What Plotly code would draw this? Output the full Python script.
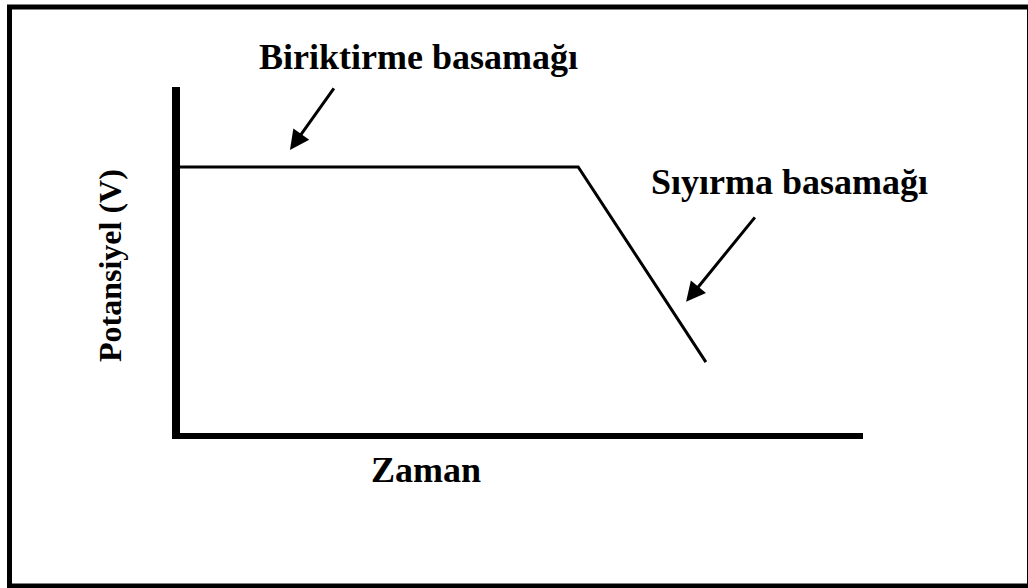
import plotly.graph_objects as go

# Data (arbitrary units)
time = [0.0, 5.83, 7.70]
potential = [7.69, 7.69, 2.05]

x_label = "Zaman"
y_label = "Potansiyel (V)"
label_dep = "Biriktirme basamağı"
label_strip = "Sıyırma basamağı"

W, H = 1028, 588
ML, MR, MT, MB = 180, 165, 87, 155
PW, PH = W - ML - MR, H - MT - MB

def px(xp):
    return (xp - ML) / PW

def py(yp):
    return (H - MB - yp) / PH

FONT = "Liberation Serif"

fig = go.Figure()
fig.add_trace(go.Scatter(x=time, y=potential, mode="lines",
                         line=dict(color="black", width=3), hoverinfo="skip",
                         showlegend=False))

axis_common = dict(showgrid=False, zeroline=False, showticklabels=False,
                   ticks="", showline=True, linecolor="black", fixedrange=True)
fig.update_xaxes(range=[0, 10], linewidth=6, **axis_common)
fig.update_yaxes(range=[0, 10], linewidth=8, **axis_common)

tfont_h = dict(family=FONT, size=36, color="black", weight="bold")
tfont_v = dict(family=FONT, size=32, color="black", weight="bold")

ann = [
    dict(text=label_dep, x=px(418), y=py(57), xref="paper", yref="paper",
         showarrow=False, font=tfont_h, xanchor="center", yanchor="middle"),
    dict(text=label_strip, x=px(789), y=py(182), xref="paper", yref="paper",
         showarrow=False, font=tfont_h, xanchor="center", yanchor="middle"),
    dict(text=x_label, x=px(426), y=py(470), xref="paper", yref="paper",
         showarrow=False, font=tfont_h, xanchor="center", yanchor="middle"),
    dict(text=y_label, x=px(110), y=py(266), xref="paper", yref="paper",
         showarrow=False, font=tfont_v, textangle=-90,
         xanchor="center", yanchor="middle"),
    # arrows
    dict(text="", x=1.61, y=8.18, xref="x", yref="y", ax=45, ay=-63,
         showarrow=True, arrowhead=2, arrowsize=1.3, arrowwidth=3,
         arrowcolor="black"),
    dict(text="", x=7.41, y=3.79, xref="x", yref="y", ax=70, ay=-86,
         showarrow=True, arrowhead=2, arrowsize=1.3, arrowwidth=3,
         arrowcolor="black"),
]

shapes = [
    dict(type="rect", xref="paper", yref="paper",
         x0=px(9.5), x1=px(1029.5), y0=py(586), y1=py(7),
         line=dict(color="black", width=5), fillcolor="rgba(0,0,0,0)",
         layer="above"),
]

fig.update_layout(
    width=W, height=H,
    margin=dict(l=ML, r=MR, t=MT, b=MB, pad=0),
    paper_bgcolor="white", plot_bgcolor="white",
    annotations=ann, shapes=shapes, showlegend=False,
)

fig.write_html("out.html", config={"displayModeBar": False},
               post_script="document.body.style.margin='0';"
                           "document.body.style.overflow='hidden';")
